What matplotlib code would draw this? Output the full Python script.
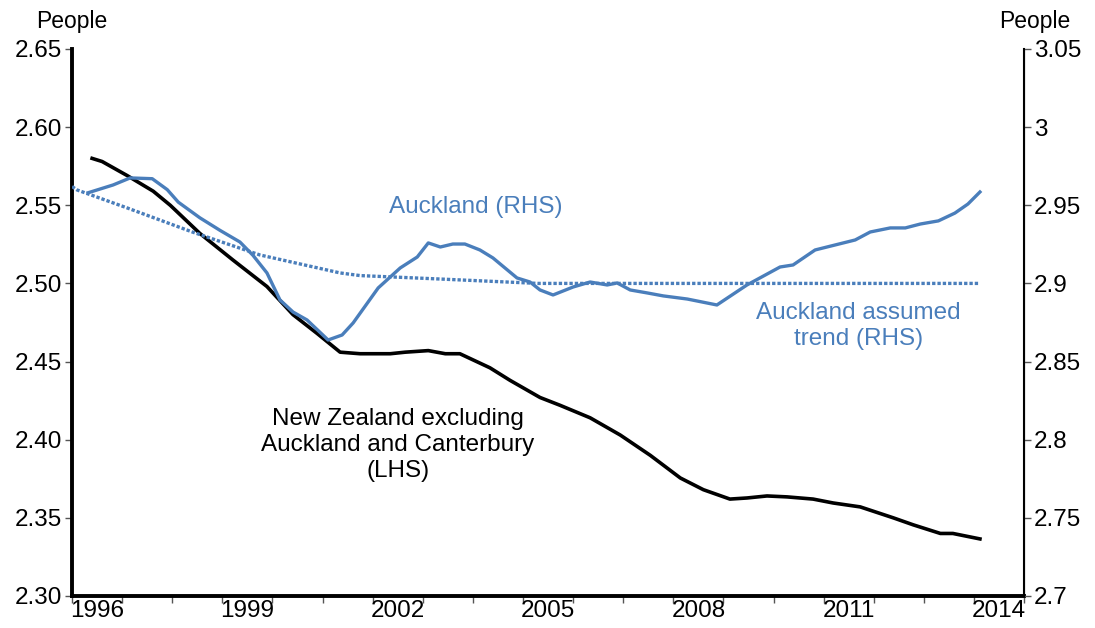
import matplotlib
matplotlib.use("Agg")
import matplotlib.pyplot as plt
from matplotlib.ticker import FixedLocator, FixedFormatter

plt.rcParams['font.family'] = ['Liberation Sans', 'DejaVu Sans']

# New Zealand excl. Auckland and Canterbury (LHS)
nz_years = [1996.40, 1996.60, 1997.10, 1997.62, 1997.96, 1998.55, 1999.21, 1999.89,
            2000.41, 2000.89, 2001.35, 2001.75, 2002.35, 2002.65, 2003.11, 2003.45,
            2003.74, 2004.34, 2004.74, 2005.34, 2005.74, 2006.34, 2006.94, 2007.54,
            2008.14, 2008.60, 2009.13, 2009.47, 2009.87, 2010.27, 2010.79, 2011.19,
            2011.73, 2012.39, 2012.79, 2013.33, 2013.58, 2014.12]
nz_vals = [2.580, 2.578, 2.569, 2.559, 2.550, 2.532, 2.515, 2.498,
           2.480, 2.468, 2.456, 2.455, 2.455, 2.456, 2.457, 2.455,
           2.455, 2.446, 2.438, 2.427, 2.422, 2.414, 2.403, 2.390,
           2.3755, 2.368, 2.362, 2.3627, 2.364, 2.3634, 2.362, 2.3595,
           2.357, 2.350, 2.3455, 2.340, 2.340, 2.3365]

# Auckland (RHS)
akl_years = [1996.32, 1996.82, 1997.16, 1997.60, 1997.90, 1998.12, 1998.55, 1998.95,
             1999.35, 1999.61, 1999.89, 2000.15, 2000.41, 2000.69, 2001.11, 2001.39,
             2001.61, 2002.11, 2002.55, 2002.89, 2003.11, 2003.35, 2003.60, 2003.84,
             2004.14, 2004.40, 2004.88, 2005.14, 2005.34, 2005.60, 2006.00, 2006.34,
             2006.68, 2006.88, 2007.14, 2007.48, 2007.80, 2008.28, 2008.87, 2009.47,
             2010.13, 2010.39, 2010.83, 2011.23, 2011.63, 2011.93, 2012.33, 2012.63,
             2012.93, 2013.29, 2013.62, 2013.88, 2014.12]
akl_vals = [2.958, 2.963, 2.9675, 2.967, 2.960, 2.952, 2.942, 2.934,
            2.9265, 2.918, 2.9067, 2.8894, 2.8817, 2.8766, 2.8638, 2.867,
            2.8747, 2.8971, 2.9099, 2.9169, 2.9259, 2.9233, 2.9252, 2.9252,
            2.9214, 2.9163, 2.9035, 2.9009, 2.8958, 2.8926, 2.8977, 2.9009,
            2.899, 2.9003, 2.8958, 2.8939, 2.892, 2.890, 2.8862, 2.899,
            2.9105, 2.9118, 2.9214, 2.9246, 2.9278, 2.9329, 2.9355, 2.9355,
            2.938, 2.940, 2.945, 2.9508, 2.9585]

# Auckland assumed trend (RHS)
trend_years = [1996.0, 1996.1, 1997.1, 1998.4, 1999.75, 2001.35, 2001.75, 2003.35,
               2005.3, 2014.1]
trend_vals = [2.962, 2.9598, 2.9483, 2.9329, 2.9182, 2.9067, 2.905, 2.9028,
              2.900, 2.900]

year_labels = ['1996', '1999', '2002', '2005', '2008', '2011', '2014']
left_ticks = [2.30, 2.35, 2.40, 2.45, 2.50, 2.55, 2.60, 2.65]
right_ticks = [2.7, 2.75, 2.8, 2.85, 2.9, 2.95, 3.0, 3.05]
right_labels = ['2.7', '2.75', '2.8', '2.85', '2.9', '2.95', '3', '3.05']

blue = '#4a7ebb'
fs = 17.5

fig = plt.figure(figsize=(10.95, 6.28), dpi=100)
ax = fig.add_axes([0.0658, 0.051, 0.8694, 0.871])
ax2 = ax.twinx()

ax.plot(nz_years, nz_vals, color='black', lw=2.6, zorder=3)
ax2.plot(akl_years, akl_vals, color=blue, lw=2.4)
ax2.plot(trend_years, trend_vals, color=blue, lw=2.4, ls=(0, (1, 0.6)))

ax.set_xlim(1996, 2015)
ax.set_ylim(2.30, 2.65)
ax2.set_ylim(2.7, 3.05)

ax.xaxis.set_major_locator(FixedLocator(range(1996, 2016)))
ax.xaxis.set_major_formatter(FixedFormatter([]))
ax.xaxis.set_minor_locator(FixedLocator([int(y) + 0.5 for y in year_labels]))
ax.xaxis.set_minor_formatter(FixedFormatter(year_labels))
ax.tick_params(axis='x', which='major', length=5, width=1, color='#555555', direction='out')
ax.tick_params(axis='x', which='minor', length=0, labelsize=fs, pad=3)

ax.set_yticks(left_ticks)
ax.set_yticklabels(['%.2f' % v for v in left_ticks])
ax.tick_params(axis='y', length=5, width=1, color='#555555', labelsize=fs, pad=2)
ax2.set_yticks(right_ticks)
ax2.set_yticklabels(right_labels)
ax2.tick_params(axis='y', length=5, width=1, color='#555555', labelsize=fs, pad=2)

for a in (ax, ax2):
    a.spines['top'].set_visible(False)
ax.spines['left'].set_linewidth(2.8)
ax.spines['bottom'].set_linewidth(2.8)
ax2.spines['left'].set_visible(False)
ax2.spines['bottom'].set_visible(False)
ax2.spines['right'].set_linewidth(1.5)

fig.text(0.0658, 0.966, 'People', ha='center', va='center', fontsize=16.5)
fig.text(0.945, 0.966, 'People', ha='center', va='center', fontsize=16.5)

ax.text(2004.05, 2.5489, 'Auckland (RHS)', color=blue, ha='center', va='center', fontsize=fs)
ax.text(2011.7, 2.4728, 'Auckland assumed\ntrend (RHS)', color=blue, ha='center',
        va='center', fontsize=fs, linespacing=1.25)
ax.text(2002.5, 2.3966, 'New Zealand excluding\nAuckland and Canterbury\n(LHS)',
        color='black', ha='center', va='center', fontsize=fs, linespacing=1.25)

fig.savefig('out.png', dpi=100)
